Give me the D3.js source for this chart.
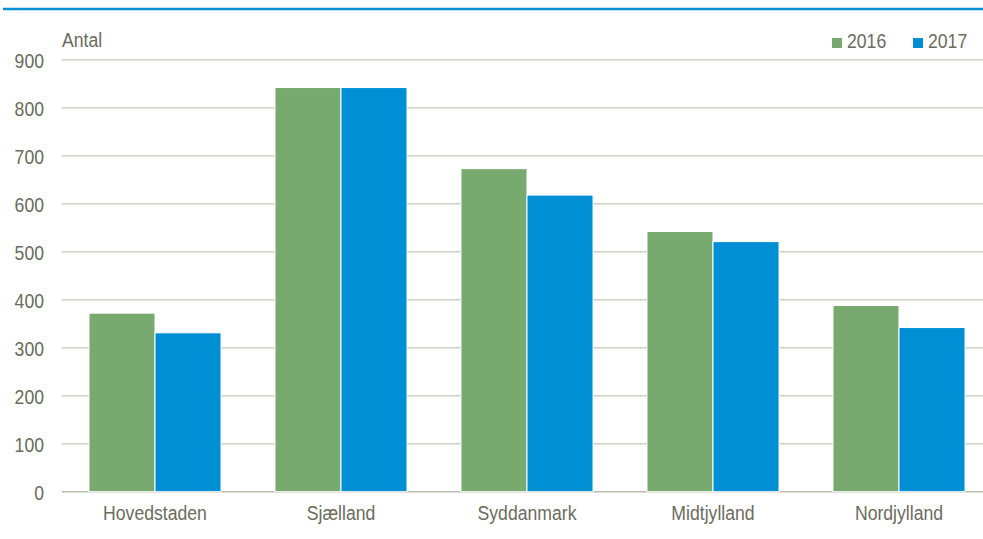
<!DOCTYPE html>
<html>
<head>
<meta charset="utf-8">
<script src="https://cdn.jsdelivr.net/npm/d3@7"></script>
<style>
  body { margin: 0; background: #fff; }
  text { font-family: "Liberation Sans", Arial, sans-serif; fill: #6b6b60; }
</style>
</head>
<body>
<svg width="983" height="539"></svg>
<script>
// regions and values (antal)
var regions = ["Hovedstaden", "Sjælland", "Syddanmark", "Midtjylland", "Nordjylland"];
var years = ["2016", "2017"];
var values2016 = [372, 842, 673, 542, 388];
var values2017 = [331, 842, 618, 521, 342];
var yTicks = [0, 100, 200, 300, 400, 500, 600, 700, 800, 900];
var colors = ["#78a96f", "#008fd5"];

var svg = d3.select("svg");
var plotL = 62, plotR = 992, plotT = 59.7, plotB = 491.7;
var narrow = "scale(0.84,1)";   // font looks condensed (Arial Narrow)

// top rule
svg.append("line").attr("x1", 3).attr("x2", 983).attr("y1", 9).attr("y2", 9)
    .attr("stroke", "#0090d2").attr("stroke-width", 2.5);

var y = d3.scaleLinear().domain([0, 900]).range([plotB, plotT]);
var x0 = d3.scaleBand().domain(regions).range([plotL, plotR]).paddingInner(0.29).paddingOuter(0.145);
var x1 = d3.scaleBand().domain(years).range([0, x0.bandwidth()]);

// gridlines
svg.append("g").selectAll("line").data(yTicks).enter().append("line")
    .attr("x1", plotL).attr("x2", 983)
    .attr("y1", function(d){ return y(d); }).attr("y2", function(d){ return y(d); })
    .attr("stroke", function(d){ return d === 0 ? "#bdbdb0" : "#cfcfc4"; })
    .attr("stroke-width", 1.5);

// y tick labels
var yAxis = d3.axisLeft(y).tickValues(yTicks).tickSize(0).tickPadding(0);
var ya = svg.append("g").attr("transform", "translate(44,0)").call(yAxis);
ya.select(".domain").remove();
ya.selectAll("text").attr("x", 0).attr("font-size", 21).attr("dy", "0.36em")
    .attr("transform", narrow)
    .style("font-family", null).attr("fill", "#6b6b60");

var rows = regions.map(function(r, i){ return {region: r, vals: [values2016[i], values2017[i]]}; });

var groups = svg.append("g").selectAll("g").data(rows).enter().append("g")
    .attr("transform", function(d){ return "translate(" + x0(d.region) + ",0)"; });

groups.selectAll("rect").data(function(d){
        return d.vals.map(function(v, j){ return {year: years[j], v: v, c: colors[j]}; });
    }).enter().append("rect")
    .attr("x", function(d){ return x1(d.year); })
    .attr("width", x1.bandwidth())
    .attr("y", function(d){ return y(d.v); })
    .attr("height", function(d){ return plotB - y(d.v); })
    .attr("fill", function(d){ return d.c; })
    .attr("stroke", "#ffffff").attr("stroke-width", 1);

// x labels
var xAxis = d3.axisBottom(x0).tickSize(0).tickPadding(0);
var xa = svg.append("g").attr("transform", "translate(0,520)").call(xAxis);
xa.select(".domain").remove();
xa.selectAll("text").attr("y", 0).attr("font-size", 21).attr("dy", 0)
    .attr("transform", narrow)
    .style("font-family", null).attr("fill", "#6b6b60");

// y label
svg.append("text").attr("transform", "translate(62,47) " + narrow)
    .attr("font-size", 21).text("Antal");

// legend
var legX = [832, 913];
var leg = svg.append("g").selectAll("g").data(years).enter().append("g")
    .attr("transform", function(d, i){ return "translate(" + legX[i] + ",38)"; });
leg.append("rect").attr("width", 10).attr("height", 10)
    .attr("fill", function(d, i){ return colors[i]; });
leg.append("text").attr("transform", "translate(15,10) " + narrow)
    .attr("font-size", 21)
    .text(function(d){ return d; });
</script>
</body>
</html>
